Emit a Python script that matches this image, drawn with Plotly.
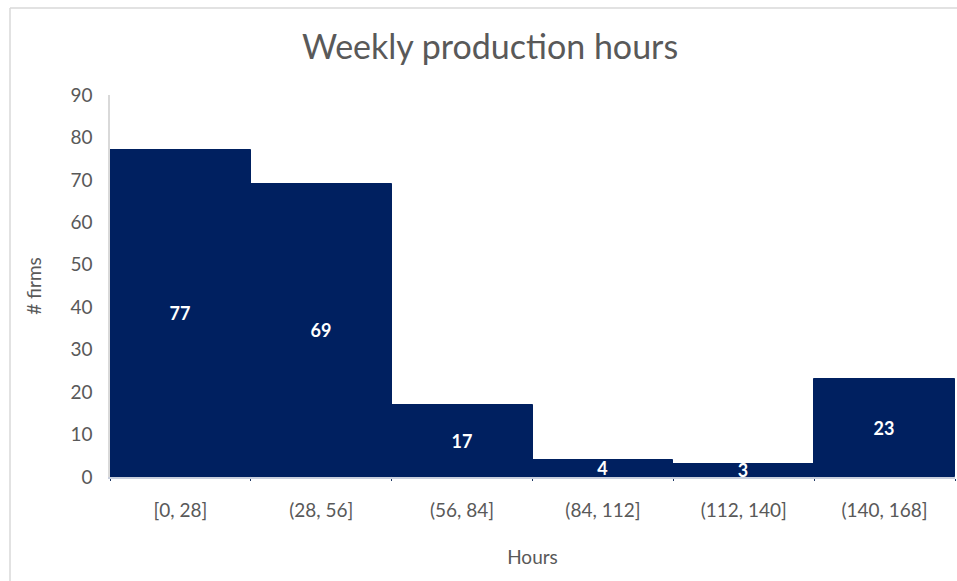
import plotly.graph_objects as go

# Histogram of weekly production hours
bins = ["[0, 28]", "(28, 56]", "(56, 84]", "(84, 112]", "(112, 140]", "(140, 168]"]
firms = [77, 69, 17, 4, 3, 23]

W, H = 957, 581
L, R, T, B = 110, 2, 95, 104
pw = W - L - R
ph = H - T - B

fig = go.Figure(
    go.Bar(
        x=bins,
        y=firms,
        text=[str(v) for v in firms],
        textposition="inside",
        insidetextanchor="middle",
        textangle=0,
        constraintext="none",
        textfont=dict(family="Lato, Open Sans, sans-serif", size=18, color="white", weight="bold"),
        marker=dict(color="#002060", line=dict(color="#002060", width=1)),
        hoverinfo="x+y",
    )
)

grey = "#595959"
fig.update_layout(
    width=W,
    height=H,
    margin=dict(l=L, r=R, t=T, b=B),
    paper_bgcolor="white",
    plot_bgcolor="white",
    bargap=0,
    showlegend=False,
    title=dict(
        text="Weekly production hours",
        x=490 / W,
        xanchor="center",
        y=1 - 47 / H,
        yanchor="middle",
        font=dict(family="Lato, Open Sans, sans-serif", size=34, color=grey),
    ),
    font=dict(family="Lato, Open Sans, sans-serif", color=grey),
)

fig.update_xaxes(
    type="category",
    showgrid=False,
    showline=True,
    linecolor="#C9CFDD",
    linewidth=1.5,
    ticks="outside",
    tickson="boundaries",
    ticklen=2,
    tickcolor="#1F3864",
    ticklabelstandoff=15,
    tickfont=dict(size=19, color=grey),
    title=dict(text="Hours", font=dict(size=19, color=grey), standoff=31),
)
fig.update_yaxes(
    range=[0, 90],
    dtick=10,
    showgrid=False,
    zeroline=False,
    showline=True,
    linecolor="#D9D9D9",
    linewidth=1.5,
    ticks="",
    ticklabelstandoff=12,
    tickfont=dict(size=19, color=grey),
    title=dict(text="# firms", font=dict(size=19, color=grey), standoff=24),
)

# Chart-area frame visible on the left and top edges
fig.add_shape(type="line", xref="paper", yref="paper",
              x0=(10 - L) / pw, x1=(10 - L) / pw,
              y0=-B / ph, y1=(H - B - 8) / ph,
              line=dict(color="#D9D9D9", width=1.5))
fig.add_shape(type="line", xref="paper", yref="paper",
              x0=(10 - L) / pw, x1=(W - L) / pw,
              y0=(H - B - 8) / ph, y1=(H - B - 8) / ph,
              line=dict(color="#D9D9D9", width=1.5))

fig.write_html("out.html")
